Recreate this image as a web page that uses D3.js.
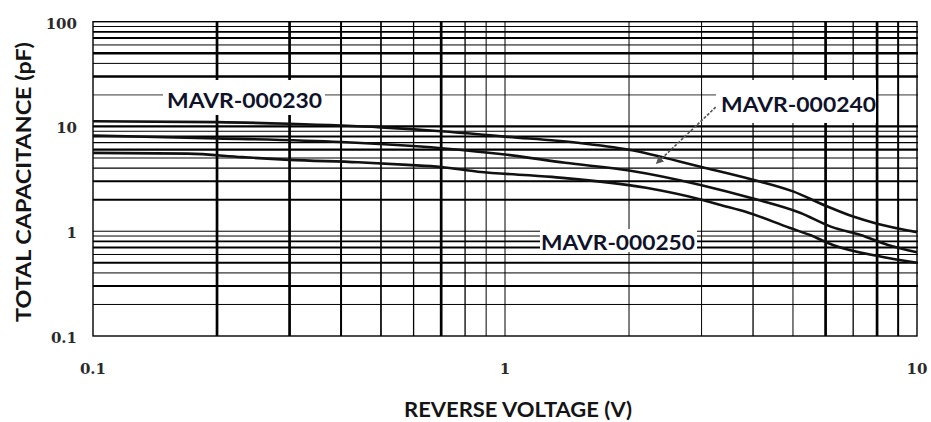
<!DOCTYPE html>
<html>
<head>
<meta charset="utf-8">
<script src="https://cdn.jsdelivr.net/npm/d3@7"></script>
<style>
    body { margin: 0; background: #fff; }
    .tick-label { font-family: "DejaVu Serif", serif; font-weight: bold; font-size: 15px; fill: #2a2a2a; }
    .axis-title { font-family: Lato, "Open Sans", sans-serif; font-weight: bold; font-size: 21px; fill: #141414; }
    .curve-label { font-family: Lato, "Open Sans", sans-serif; font-weight: bold; font-size: 21px; fill: #10122a; }
</style>
</head>
<body>
<svg id="chart" width="931" height="422"></svg>
<script>
// Series: reverse voltage (V) / total capacitance (pF)
let mavr230 = [
    { v: 0.1, c: 11.2 }, { v: 0.2, c: 11.0 }, { v: 0.3, c: 10.6 }, { v: 0.5, c: 9.8 },
    { v: 0.7, c: 9.0 }, { v: 1.0, c: 8.0 }, { v: 1.5, c: 7.0 }, { v: 2.0, c: 6.0 },
    { v: 3.0, c: 4.1 }, { v: 4.0, c: 3.1 }, { v: 5.0, c: 2.4 }, { v: 6.0, c: 1.75 },
    { v: 7.0, c: 1.38 }, { v: 8.0, c: 1.18 }, { v: 10, c: 0.98 }
];
let mavr240 = [
    { v: 0.1, c: 8.2 }, { v: 0.2, c: 7.7 }, { v: 0.4, c: 7.1 }, { v: 0.7, c: 6.2 },
    { v: 1.0, c: 5.4 }, { v: 1.4, c: 4.5 }, { v: 2.0, c: 3.8 }, { v: 3.0, c: 2.75 },
    { v: 4.0, c: 2.05 }, { v: 5.2, c: 1.5 }, { v: 6.2, c: 1.1 }, { v: 7.3, c: 0.92 },
    { v: 8.5, c: 0.74 }, { v: 10, c: 0.63 }
];
let mavr250 = [
    { v: 0.1, c: 5.6 }, { v: 0.17, c: 5.5 }, { v: 0.23, c: 5.1 }, { v: 0.3, c: 4.8 },
    { v: 0.44, c: 4.55 }, { v: 0.58, c: 4.3 }, { v: 0.7, c: 4.1 }, { v: 0.86, c: 3.7 },
    { v: 1.3, c: 3.3 }, { v: 2.2, c: 2.6 }, { v: 3.0, c: 2.0 }, { v: 3.3, c: 1.8 },
    { v: 3.9, c: 1.5 }, { v: 4.9, c: 1.08 }, { v: 5.5, c: 0.92 }, { v: 6.25, c: 0.74 },
    { v: 8.2, c: 0.57 }, { v: 10, c: 0.5 }
];

let seriesNames = ["MAVR-000230", "MAVR-000240", "MAVR-000250"];
let xTickLabels = ["0.1", "1", "10"];
let yTickLabels = ["0.1", "1", "10", "100"];

// gridline values (log minor ticks)
let xGrid = [0.2, 0.3, 0.4, 0.5, 0.6, 0.7, 0.8, 0.9, 1, 2, 3, 4, 5, 6, 7, 8, 9];
let yGrid = [0.2, 0.3, 0.4, 0.5, 0.6, 0.7, 0.8, 0.9, 1, 2, 3, 4, 5, 6, 7, 8, 9, 10, 20, 30, 40, 50, 60, 70, 80, 90];

// stroke widths of the scanned gridlines (style only)
let xGridWidth = [2.7, 2.7, 2, 1.7, 1.3, 2.7, 1.3, 1, 1, 1, 1, 1.3, 1, 2.7, 1.3, 2.7, 2];
let yGridWidth = [1, 2, 1, 2, 1, 2, 1.7, 1, 1, 2, 2, 1.3, 1, 2.3, 1.3, 2, 1, 2.3, 0.8, 2.3, 1, 2.3, 1, 2, 1.7, 1];

let svg = d3.select("#chart");

let x = d3.scaleLog().domain([0.1, 10]).range([93, 917]);
let y = d3.scaleLog().domain([0.1, 100]).range([336, 21.7]);

// Gridlines
svg.append("g")
    .selectAll("line")
    .data(yGrid)
    .enter()
    .append("line")
    .attr("x1", x(0.1))
    .attr("x2", x(10) + 1)
    .attr("y1", function (d) { return y(d); })
    .attr("y2", function (d) { return y(d); })
    .attr("stroke", "#000")
    .attr("stroke-width", function (d, i) { return yGridWidth[i]; });

svg.append("g")
    .selectAll("line")
    .data(xGrid)
    .enter()
    .append("line")
    .attr("x1", function (d) { return x(d); })
    .attr("x2", function (d) { return x(d); })
    .attr("y1", y(100))
    .attr("y2", y(0.1))
    .attr("stroke", "#000")
    .attr("stroke-width", function (d, i) { return xGridWidth[i]; });

// frame
svg.append("rect")
    .attr("x", x(0.1))
    .attr("y", y(100))
    .attr("width", x(10) - x(0.1))
    .attr("height", y(0.1) - y(100))
    .attr("fill", "none")
    .attr("stroke", "#000")
    .attr("stroke-width", 1.4);

// Curves
let line = d3.line()
    .x(function (d) { return x(d.v); })
    .y(function (d) { return y(d.c); })
    .curve(d3.curveMonotoneX);

svg.append("g")
    .selectAll("path")
    .data([mavr230, mavr240, mavr250])
    .enter()
    .append("path")
    .attr("d", line)
    .attr("fill", "none")
    .attr("stroke", "#111")
    .attr("stroke-width", 2.6);

// Tick labels
svg.append("g")
    .selectAll("text")
    .data(yTickLabels)
    .enter()
    .append("text")
    .attr("class", "tick-label")
    .attr("x", 77)
    .attr("y", function (d) { return y(+d) + 7; })
    .attr("text-anchor", "end")
    .text(function (d) { return d; });

svg.append("g")
    .selectAll("text")
    .data(xTickLabels)
    .enter()
    .append("text")
    .attr("class", "tick-label")
    .attr("x", function (d) { return x(+d); })
    .attr("y", 374)
    .attr("text-anchor", "middle")
    .text(function (d) { return d; });

// Axis titles
svg.append("text")
    .attr("class", "axis-title")
    .attr("x", 518)
    .attr("y", 417)
    .attr("text-anchor", "middle")
    .attr("textLength", 228)
    .attr("lengthAdjust", "spacingAndGlyphs")
    .text("REVERSE VOLTAGE (V)");

svg.append("text")
    .attr("class", "axis-title")
    .attr("transform", "translate(31,182) rotate(-90)")
    .attr("text-anchor", "middle")
    .attr("textLength", 280)
    .attr("lengthAdjust", "spacingAndGlyphs")
    .text("TOTAL CAPACITANCE (pF)");

// Curve labels with white boxes knocking out the grid
let labelBoxes = [
    { x: 163, y: 80, w: 162, h: 35, tx: 167, ty: 108, len: 155 },
    { x: 716, y: 80, w: 160, h: 43, tx: 721, ty: 112, len: 155 },
    { x: 540, y: 229, w: 157, h: 23, tx: 541, ty: 250, len: 154 }
];

// arrow for MAVR-000240
svg.append("defs").append("marker")
    .attr("id", "head")
    .attr("viewBox", "0 0 10 10")
    .attr("refX", 8)
    .attr("refY", 5)
    .attr("markerWidth", 5)
    .attr("markerHeight", 5)
    .attr("orient", "auto")
    .append("path")
    .attr("d", "M0,0 L10,5 L0,10 z")
    .attr("fill", "#555");

svg.append("line")
    .attr("x1", 719)
    .attr("y1", 104)
    .attr("x2", 657)
    .attr("y2", 163)
    .attr("stroke", "#555")
    .attr("stroke-width", 1.6)
    .attr("stroke-dasharray", "3,1.5")
    .attr("marker-end", "url(#head)");

let labels = svg.append("g")
    .selectAll("g")
    .data(labelBoxes)
    .enter()
    .append("g");

labels.append("rect")
    .attr("x", function (d) { return d.x; })
    .attr("y", function (d) { return d.y; })
    .attr("width", function (d) { return d.w; })
    .attr("height", function (d) { return d.h; })
    .attr("fill", "#fff");

labels.append("text")
    .attr("class", "curve-label")
    .attr("x", function (d) { return d.tx; })
    .attr("y", function (d) { return d.ty; })
    .attr("textLength", function (d) { return d.len; })
    .attr("lengthAdjust", "spacingAndGlyphs")
    .text(function (d, i) { return seriesNames[i]; });
</script>
</body>
</html>
